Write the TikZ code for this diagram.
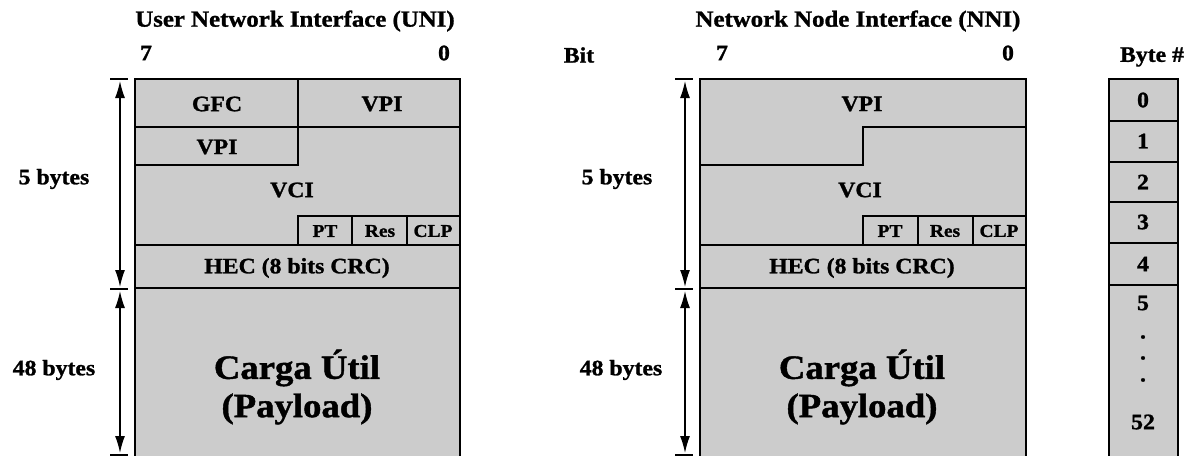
\documentclass[tikz,border=0pt]{standalone}
\usepackage{fontspec}
\setmainfont{Liberation Serif}[FakeStretch=1.08, BoldFeatures={FakeBold=1.2}]
\usetikzlibrary{arrows.meta}
\definecolor{cellgray}{RGB}{204,204,204}
\begin{document}
\begin{tikzpicture}[x=1pt,y=-1pt,
  frame/.style={line width=1.8pt, line join=miter},
  sep/.style={line width=1.6pt},
  lbl/.style={font=\bfseries\fontsize{22}{24}\selectfont, inner sep=0pt},
  ttl/.style={font=\bfseries\fontsize{23}{25}\selectfont, inner sep=0pt},
  small/.style={font=\bfseries\fontsize{18}{20}\selectfont, inner sep=0pt},
  big/.style={font=\bfseries\fontsize{34}{38}\selectfont, inner sep=0pt},
  dim/.style={line width=1.4pt, {Latex[length=17pt,width=10pt]}-{Latex[length=17pt,width=10pt]}, shorten <=2pt, shorten >=2pt},
  tick/.style={line width=1.2pt}]
\useasboundingbox (0,0) rectangle (1193,455);

% ---------- UNI ----------
\fill[cellgray] (135,79) rectangle (460,456);
\draw[frame] (135,456) -- (135,79) -- (460,79) -- (460,456);
\draw[sep] (135,127) -- (460,127);
\draw[sep] (298,79) -- (298,165) -- (135,165);
\draw[sep] (298,245) -- (298,216) -- (460,216);
\draw[sep] (352,216) -- (352,245);
\draw[sep] (407,216) -- (407,245);
\draw[sep] (135,245) -- (460,245);
\draw[sep] (135,288) -- (460,288);

\node[ttl] (uni-title) at (295,21) {User Network Interface (UNI)};
\node[lbl] (uni-b7) at (146,53) {7};
\node[lbl] (uni-b0) at (444,53) {0};
\node[lbl] (uni-gfc) at (217,104) {GFC};
\node[lbl] (uni-vpi1) at (382,104) {VPI};
\node[lbl] (uni-vpi2) at (217,147) {VPI};
\node[lbl] (uni-vci) at (292,190) {VCI};
\node[small] (uni-pt) at (325,231) {PT};
\node[small] (uni-res) at (380,231) {Res};
\node[small] (uni-clp) at (433,231) {CLP};
\node[lbl] (uni-hec) at (297,268) {HEC (8 bits CRC)};
\node[big] (uni-carga) at (297,368) {Carga Útil};
\node[big] (uni-pay) at (297,409) {(Payload)};
\node[lbl] (uni-5b) at (54,179) {5 bytes};
\node[lbl] (uni-48b) at (54,370) {48 bytes};

\coordinate (uni-t0) at (120,79);
\coordinate (uni-t1) at (120,289);
\coordinate (uni-t2) at (120,455);
\draw[tick] ([xshift=-10pt]uni-t0) -- ([xshift=8pt]uni-t0);
\draw[tick] ([xshift=-10pt]uni-t1) -- ([xshift=8pt]uni-t1);
\draw[tick] ([xshift=-10pt]uni-t2) -- ([xshift=8pt]uni-t2);
\draw[dim] (uni-t0) -- (uni-t1);
\draw[dim] (uni-t1) -- (uni-t2);

% ---------- NNI ----------
\fill[cellgray] (700,79) rectangle (1026,456);
\draw[frame] (700,456) -- (700,79) -- (1026,79) -- (1026,456);
\draw[sep] (700,165) -- (863,165) -- (863,127) -- (1026,127);
\draw[sep] (863,245) -- (863,216) -- (1026,216);
\draw[sep] (918,216) -- (918,245);
\draw[sep] (973,216) -- (973,245);
\draw[sep] (700,245) -- (1026,245);
\draw[sep] (700,288) -- (1026,288);

\node[ttl] (nni-title) at (858,21) {Network Node Interface (NNI)};
\node[lbl] (nni-bit) at (579,55) {Bit};
\node[lbl] (nni-b7) at (722,53) {7};
\node[lbl] (nni-b0) at (1008,53) {0};
\node[lbl] (nni-vpi) at (862,104) {VPI};
\node[lbl] (nni-vci) at (860,190) {VCI};
\node[small] (nni-pt) at (890,231) {PT};
\node[small] (nni-res) at (945,231) {Res};
\node[small] (nni-clp) at (999,231) {CLP};
\node[lbl] (nni-hec) at (862,268) {HEC (8 bits CRC)};
\node[big] (nni-carga) at (862,368) {Carga Útil};
\node[big] (nni-pay) at (862,409) {(Payload)};
\node[lbl] (nni-5b) at (617,179) {5 bytes};
\node[lbl] (nni-48b) at (621,370) {48 bytes};

\coordinate (nni-t0) at (685,79);
\coordinate (nni-t1) at (685,289);
\coordinate (nni-t2) at (685,455);
\draw[tick] ([xshift=-10pt]nni-t0) -- ([xshift=8pt]nni-t0);
\draw[tick] ([xshift=-10pt]nni-t1) -- ([xshift=8pt]nni-t1);
\draw[tick] ([xshift=-10pt]nni-t2) -- ([xshift=8pt]nni-t2);
\draw[dim] (nni-t0) -- (nni-t1);
\draw[dim] (nni-t1) -- (nni-t2);

% ---------- Byte column ----------
\fill[cellgray] (1109,79) rectangle (1178,456);
\draw[frame] (1109,456) -- (1109,79) -- (1178,79) -- (1178,456);
\foreach \yy in {121,162,202,243,285} \draw[sep] (1109,\yy) -- (1178,\yy);
\node[lbl] (byte-title) at (1152,57) {Byte \#};
\node[lbl] (byte-0) at (1143,100) {0};
\node[lbl] (byte-1) at (1143,141) {1};
\node[lbl] (byte-2) at (1143,182) {2};
\node[lbl] (byte-3) at (1143,222) {3};
\node[lbl] (byte-4) at (1143,264) {4};
\node[lbl] (byte-5) at (1143,303) {5};
\node[lbl] (byte-d1) at (1143,337) {.};
\node[lbl] (byte-d2) at (1143,358) {.};
\node[lbl] (byte-d3) at (1143,380) {.};
\node[lbl] (byte-52) at (1143,422) {52};
\end{tikzpicture}
\end{document}
